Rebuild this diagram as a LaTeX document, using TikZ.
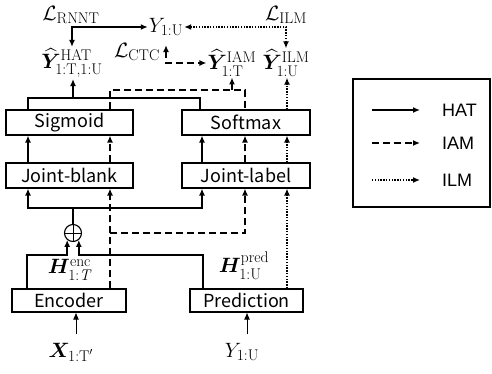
\documentclass[tikz,border=0pt]{standalone}
\usepackage{amsmath,bm}
\usepackage{fontspec}
\setsansfont{Noto Sans CJK JP}
\newfontfamily\legendfont{Liberation Sans}
\newcommand{\ix}[1]{\mbox{\rmfamily\upshape\fontsize{15.5}{16}\selectfont #1}}
\usetikzlibrary{arrows.meta,calc}

\begin{document}
\begin{tikzpicture}[
  x=1pt,y=1pt,
  >={Latex[length=7pt,width=6pt]},
  blk/.style={rectangle,draw,line width=1.1pt,minimum height=25pt,inner sep=0pt,
              font=\sffamily\fontsize{18}{20}\selectfont},
  sym/.style={inner sep=1pt,font=\fontsize{20}{24}\selectfont},
  leg/.style={inner sep=0pt,anchor=west,font=\legendfont\fontsize{18}{20}\selectfont},
  hatline/.style={line width=1.6pt},
  hat/.style={->,hatline},
  hatthick/.style={->,line width=2.2pt},
  hatboth/.style={<->,hatline},
  iamline/.style={line width=1.6pt,dash pattern=on 7pt off 4pt},
  iam/.style={->,iamline},
  iamboth/.style={<->,iamline},
  ilmline/.style={line width=1.6pt,dash pattern=on 1.4pt off 1.4pt},
  ilm/.style={->,ilmline},
  ilmboth/.style={<->,ilmline},
  inarr/.style={->,line width=0.9pt}
]
\useasboundingbox (0,0) rectangle (492,374);

%% ================= blocks =================
\node[blk,minimum width=127pt] (sig)    at (69.5,251.5) {Sigmoid};
\node[blk,minimum width=128pt] (soft)   at (246,251.5)  {Softmax};
\node[blk,minimum width=127pt] (jblank) at (69.5,198.5) {Joint-blank};
\node[blk,minimum width=128pt] (jlabel) at (246,198.5)  {Joint-label};
\node[blk,minimum width=114pt,minimum height=23pt] (enc)  at (69,73.5)    {Encoder};
\node[blk,minimum width=113pt,minimum height=23pt] (pred) at (246.5,73.5) {Prediction};
\node[circle,draw,line width=1.1pt,minimum size=17pt,inner sep=0pt,
      path picture={\draw[line width=0.8pt]
        (path picture bounding box.north) -- (path picture bounding box.south)
        (path picture bounding box.west) -- (path picture bounding box.east);}]
  (plus) at (73,141) {};

%% ================= symbols =================
\node[sym] (yhat)  at (72,311)  {$\widehat{\bm{Y}}^{\ix{HAT}}_{\ix{1:T,1:U}}$};
\node[sym] (yiam)  at (232,311) {$\widehat{\bm{Y}}^{\ix{IAM}}_{\ix{1:T}}$};
\node[sym] (yilm)  at (286,311) {$\widehat{\bm{Y}}^{\ix{ILM}}_{\ix{1:U}}$};
\node[sym] (ytgt)  at (166,347) {$Y_{\ix{1:U}}$};
\node[sym] (lrnnt) at (71,359)  {$\mathcal{L}_{\ix{RNNT}}$};
\node[sym] (lilm)  at (286,359) {$\mathcal{L}_{\ix{ILM}}$};
\node[sym] (lctc)  at (137,322) {$\mathcal{L}_{\ix{CTC}}$};
\node[sym] (henc)  at (70,104)  {$\bm{H}^{\ix{enc}}_{\ix{1:\textit{T}}}$};
\node[sym] (hpred) at (244,108) {$\bm{H}^{\ix{pred}}_{\ix{1:U}}$};
\node[sym] (xin)   at (71,22)   {$\bm{X}_{\ix{1:T$'$}}$};
\node[sym] (yin)   at (242,22)  {$Y_{\ix{1:U}}$};

\coordinate (encup)  at (27,119);
\coordinate (predup) at (203,119);
\coordinate (jlow)   at (73,166);
\coordinate (iambr)  at (110,141);
\coordinate (hatup)  at (73,276);
\coordinate (iamup)  at (232,284);

%% ================= inputs =================
\draw[inarr,shorten <=8pt] ([xshift=5pt]xin.north) -- ([xshift=7pt]enc.south);
\draw[inarr,shorten <=8pt] ([xshift=5pt]yin.north) -- ([xshift=0.5pt]pred.south);

%% ================= into the joints =================
\draw[hatthick] ([xshift=-42pt]enc.north) -- (encup) -| (plus.-130);
\draw[hatthick] ([xshift=-43.5pt]pred.north) -- (predup) -| (plus.-50);
\draw[hatline] (plus.north) -- (jlow);
\draw[hat] (jlow) -| ([xshift=-41.5pt]jblank.south);
\draw[hat] (jlow) -| ([xshift=-44pt]jlabel.south);
\draw[iam] ([xshift=41pt]enc.north) -- ([xshift=40.5pt]jblank.south);
\draw[iam] (iambr) -| ([xshift=-1pt]jlabel.south);
\draw[ilm] ([xshift=40.5pt]pred.north) -- ([xshift=41pt]jlabel.south);

%% ================= joints -> output layers =================
\foreach \a/\b/\s/\d in {jblank/sig/hat/-41.5, jblank/sig/iam/40.5,
                         jlabel/soft/hat/-44, jlabel/soft/iam/-1, jlabel/soft/ilm/41}
  \draw[\s] ([xshift=\d pt]\a.north) -- ([xshift=\d pt]\b.south);

%% ================= output layers -> outputs =================
\draw[hatline] ([xshift=-41.5pt]sig.north) |- (hatup) -| ([xshift=-46pt]soft.north);
\draw[hat] (hatup) -- (hatup |- yhat.south);
\draw[iamline] ([xshift=40.5pt]sig.north) |- (iamup) -| ([xshift=-1pt]soft.north);
\draw[iam] (iamup) -- (iamup |- yiam.south);
\draw[ilm] ([xshift=41pt]soft.north) -- ([xshift=41pt]soft.north |- yilm.south);

%% ================= losses =================
\draw[hatboth] (yhat.north) |- (ytgt.west);
\draw[ilmboth] (yilm.north) |- (ytgt.east);
\draw[iamboth,shorten <=8pt] (ytgt.south) |- (yiam.west);

%% ================= legend =================
\node[draw,line width=1.1pt,minimum width=137pt,minimum height=128pt] (legend) at (421.5,231) {};
\node[leg] (lhat) at (442,264) {HAT};
\node[leg] (liam) at (442,231) {IAM};
\node[leg] (lilmk) at (442,194) {ILM};
\foreach \n/\s in {lhat/hat, liam/iam, lilmk/ilm}
  \draw[\s] ([xshift=-70pt]\n.west) -- ([xshift=-22pt]\n.west);

\end{tikzpicture}
\end{document}
